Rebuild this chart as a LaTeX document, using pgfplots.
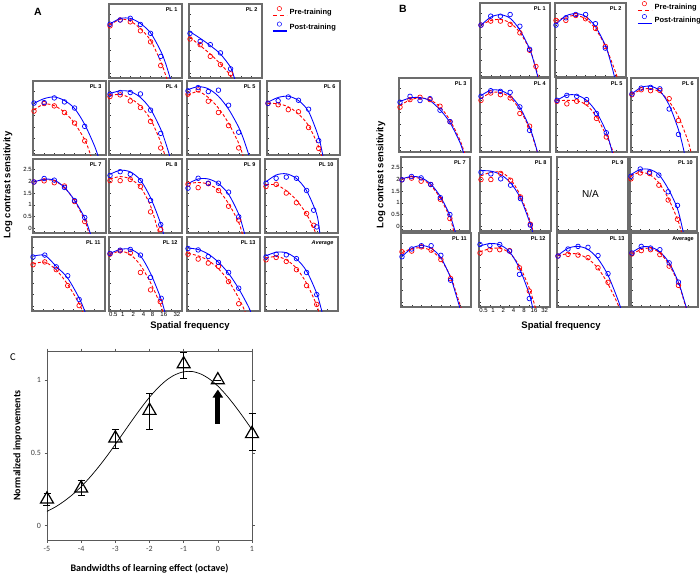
\documentclass[border=0pt]{standalone}
\usepackage{fontspec}
\setmainfont{Liberation Sans}
\newfontfamily\calibri{Carlito}
\usepackage{pgfplots}
\pgfplotsset{compat=1.18}
\usetikzlibrary{arrows.meta}

\pgfplotsset{
 csf/.style={scale only axis, width=73pt, height=74pt, anchor=north west,
  xmin=-1.1, xmax=6.1, ymin=-0.2, ymax=2.95,
  xtick={-1,0,1,2,3,4,5}, ytick={0,0.5,1,1.5,2,2.5},
  xticklabels={}, yticklabels={},
  tick align=inside, xtick pos=bottom, ytick pos=left,
  major tick length=2pt,
  axis line style={draw=gray!85!black, line width=1.1pt},
  tick style={black!80, line width=0.4pt},
  ticklabel style={font=\fontsize{6}{7}\selectfont, inner sep=1pt},
 },
 sflabels/.style={extra x ticks={#1}, extra x tick labels={0.5,1,2,4,8,16,32},
  extra x tick style={major tick length=0pt, tick style={draw=none}}},
 pre/.style={red, only marks, mark=o, mark size=2.3pt, mark options={solid, line width=0.7pt}},
 post/.style={blue, only marks, mark=o, mark size=2.3pt, mark options={solid, line width=0.7pt}},
 prefit/.style={red, line width=0.9pt, dash pattern=on 3pt off 2pt, smooth, no markers},
 postfit/.style={blue, line width=0.85pt, smooth, no markers},
 lgimg/.style={legend image code/.code={\draw[##1, solid, line width=0.5pt] (6.5pt,3.5pt) circle (2.2pt); \draw[##1, line width=1.4pt] (0pt,-3.5pt) -- (14pt,-3.5pt);}},
}
\newcommand{\csfpanel}[8]{%
\begin{axis}[csf, at={(#1pt,-#2pt)}, #8]
\addplot[prefit] coordinates {#6};
\addplot[postfit] coordinates {#7};
\addplot[pre] coordinates {#4};
\addplot[post] coordinates {#5};
\node[anchor=north east, font=\fontsize{5.5}{6}\selectfont\bfseries, inner sep=0pt] at (rel axis cs:0.94,0.95) {#3};
\end{axis}}

\begin{document}
\begin{tikzpicture}
\useasboundingbox (0pt,0pt) rectangle (700pt,-579pt);

% ===================== Panel A =====================
\node[font=\bfseries\fontsize{10.5}{12}\selectfont] at (38pt,-12pt) {A};
\csfpanel{109}{4}{PL 1}
 {(-1,2.02)(0,2.27)(1,2.19)(2,1.81)(3,1.34)(4,0.33)}
 {(-1,2.09)(0,2.27)(1,2.34)(2,2.08)(3,1.70)(4,0.72)}
 {(-1,2.05)(0,2.3)(1,2.22)(2,1.9)(3,1.4)(4,0.5)(4.5,-0.1)(5,-0.8)}
 {(-1,2.1)(0,2.33)(1,2.34)(2,2.12)(3,1.72)(4,0.95)(4.5,0.4)(5,-0.3)}{}
\csfpanel{189}{4}{PL 2}
 {(-1,1.46)(0,1.22)(1,0.72)(2,0.37)(3,-0.02)}
 {(-1,1.70)(0,1.36)(1,1.22)(2,0.87)(3,0.19)}
 {(-1,1.53)(0,1.18)(1,0.82)(2,0.4)(3,-0.1)(3.3,-0.5)}
 {(-1,1.77)(0,1.49)(1,1.18)(2,0.82)(3,0.26)(3.3,-0.1)(3.6,-0.5)}{}
\csfpanel{33}{81}{PL 3}
 {(-1,1.67)(0,1.99)(1,1.89)(2,1.61)(3,1.16)(4,0.40)}
 {(-1,2.01)(0,2.03)(1,2.23)(2,2.06)(3,1.80)(4,1.02)}
 {(-1,1.72)(0,1.97)(1,1.9)(2,1.62)(3,1.15)(4,0.45)(4.5,-0.1)(5,-0.8)}
 {(-1,2.0)(0,2.2)(1,2.27)(2,2.12)(3,1.78)(4,1.1)(5,0.15)(5.5,-0.5)}{}
\csfpanel{109}{81}{PL 4}
 {(-1,2.29)(0,2.36)(1,2.10)(2,1.82)(3,1.23)(4,0.10)}
 {(-1,2.39)(0,2.46)(1,2.46)(2,2.40)(3,1.71)(4,0.72)}
 {(-1,2.33)(0,2.38)(1,2.22)(2,1.88)(3,1.32)(4,0.35)(4.4,-0.2)(4.8,-0.8)}
 {(-1,2.42)(0,2.53)(1,2.5)(2,2.25)(3,1.75)(4,0.9)(4.5,0.3)(5,-0.4)}{}
\csfpanel{187}{81}{PL 5}
 {(-1,2.39)(0,2.57)(1,2.09)(2,1.61)(3,1.05)(4,0.10)}
 {(-1,2.53)(0,2.67)(1,2.50)(2,2.56)(3,1.92)(4,0.77)}
 {(-1,2.35)(0,2.5)(1,2.25)(2,1.8)(3,1.15)(4,0.3)(4.4,-0.2)(4.8,-0.8)}
 {(-1,2.58)(0,2.71)(1,2.62)(2,2.3)(3,1.75)(4,0.98)(4.5,0.45)(5,-0.2)}{}
\csfpanel{267}{81}{PL 6}
 {(-1,2.0)(0,1.94)(1,1.73)(2,1.64)(3,0.97)(4,0.08)}
 {(-1,2.0)(0,2.11)(1,2.27)(2,2.13)(3,1.75)(4,0.41)}
 {(-1,2.0)(0,1.98)(1,1.85)(2,1.55)(3,1.05)(4,0.15)(4.3,-0.3)}
 {(-1,2.05)(0,2.25)(1,2.3)(2,2.12)(3,1.65)(4,0.55)(4.4,-0.2)(4.7,-0.7)}{}
\csfpanel{33}{159}{PL 7}
 {(-1,1.97)(0,2.02)(1,1.94)(2,1.8)(3,1.14)(4,0.29)}
 {(-1,1.97)(0,2.12)(1,2.05)(2,1.74)(3,1.18)(4,0.46)}
 {(-1,1.97)(0,2.07)(1,2.02)(2,1.74)(3,1.17)(4,0.34)(4.4,-0.2)(4.8,-0.8)}
 {(-1,1.97)(0,2.09)(1,2.05)(2,1.74)(3,1.19)(4,0.44)(4.5,-0.15)(4.9,-0.7)}
 {yticklabels={0,0.5,1,1.5,2,2.5}}
\csfpanel{109}{159}{PL 8}
 {(-1,2.03)(0,2.03)(1,2.08)(2,1.78)(3,0.70)(4,-0.05)}
 {(-1,2.25)(0,2.41)(1,2.3)(2,2.03)(3,1.19)(4,0.16)}
 {(-1,2.1)(0,2.2)(1,2.1)(2,1.75)(3,0.95)(3.8,-0.2)(4.2,-0.8)}
 {(-1,2.3)(0,2.47)(1,2.4)(2,2.05)(3,1.3)(4,0.2)(4.3,-0.3)}{}
\csfpanel{187}{159}{PL 9}
 {(-1,1.88)(0,1.73)(1,1.9)(2,1.61)(3,0.94)(4,0.35)}
 {(-1,1.71)(0,2.13)(1,1.92)(2,1.92)(3,1.54)(4,0.49)}
 {(-1,1.9)(0,1.95)(1,1.88)(2,1.62)(3,1.05)(4,0.25)(4.4,-0.3)}
 {(-1,1.9)(0,2.1)(1,2.1)(2,1.9)(3,1.45)(4,0.6)(4.5,-0.1)(4.9,-0.7)}{}
\csfpanel{265}{159}{PL 10}
 {(-1,1.78)(0,1.87)(1,1.5)(2,1.09)(3,0.63)(3.7,0.13)}
 {(-1,1.92)(0,2.13)(1,2.18)(2,2.13)(3,1.61)(3.7,0.77)(4,0.06)}
 {(-1,1.85)(0,1.85)(1,1.6)(2,1.2)(3,0.6)(3.8,-0.1)(4.1,-0.5)}
 {(-1,1.98)(0,2.27)(1,2.32)(2,2.12)(3,1.6)(4,0.6)(4.3,-0.2)}{}
\csfpanel{32}{237}{PL 11}
 {(-1,1.77)(0.16,1.89)(1.29,1.56)(2.42,0.88)(3.55,0.03)}
 {(-1,2.10)(0.16,2.18)(1.29,1.68)(2.42,1.30)(3.55,0.29)}
 {(-1,1.8)(0.16,1.88)(1.29,1.55)(2.42,0.93)(3.55,0.12)(3.9,-0.25)}
 {(-1,2.13)(0.16,2.17)(1.29,1.7)(2.42,1.2)(3.55,0.35)(4.1,-0.2)(4.4,-0.6)}{}
\csfpanel{109}{237}{PL 12}
 {(-1,2.22)(0,2.36)(1,2.27)(2,1.44)(3,0.7)(3.95,0.2)}
 {(-1,2.25)(0,2.39)(1,2.42)(2,2.18)(3,1.23)(4.05,0.34)}
 {(-1,2.2)(0,2.35)(1,2.2)(2,1.75)(3,1.0)(4,0.05)(4.2,-0.25)}
 {(-1,2.25)(0,2.42)(1,2.43)(2,2.15)(3,1.4)(4,0.35)(4.35,-0.15)(4.7,-0.7)}
 {sflabels={-0.67,0.25,1.3,2.3,3.2,4.3,5.6}}
\csfpanel{187}{237}{PL 13}
 {(-1,2.22)(0,2.01)(1,1.84)(2,1.7)(3,1.05)(4,0.11)}
 {(-1,2.46)(0,2.4)(1,2.12)(2,1.87)(3,1.44)(4,0.77)}
 {(-1,2.25)(0,2.15)(1,1.95)(2,1.6)(3,1.08)(4,0.35)(4.6,-0.2)(5,-0.7)}
 {(-1,2.48)(0,2.42)(1,2.22)(2,1.88)(3,1.4)(4,0.75)(5,-0.05)(5.3,-0.4)}{}
\csfpanel{265}{237}{\textit{Average}}
 {(-1,1.98)(0,2.08)(1,1.91)(2,1.56)(3,0.88)(4,0.08)}
 {(-1,2.1)(0,2.22)(1,2.19)(2,2.03)(3,1.44)(4,0.5)}
 {(-1,2.05)(0,2.12)(1,1.98)(2,1.62)(3,0.98)(4,0.05)(4.2,-0.25)}
 {(-1,2.15)(0,2.3)(1,2.28)(2,2.02)(3,1.5)(4,0.55)(4.5,-0.2)(4.8,-0.7)}{}
\node[rotate=90, font=\bfseries\fontsize{9.5}{11}\selectfont] at (8pt,-185pt) {Log contrast sensitivity};
\node[font=\bfseries\fontsize{9.5}{11}\selectfont] at (190pt,-326pt) {Spatial frequency};
% legend A
\begin{axis}[at={(272pt,-6pt)}, anchor=north west, hide axis, scale only axis, width=10pt, height=10pt,
 xmin=0,xmax=1,ymin=0,ymax=1,
 legend style={at={(0,1)}, anchor=north west, draw=none, fill=none, font=\bfseries\fontsize{7.5}{9}\selectfont, row sep=4pt, inner sep=0pt},
 legend cell align=left]
\addlegendimage{lgimg, color=red, dash pattern=on 4pt off 3pt}
\addlegendentry{Pre-training}
\addlegendimage{lgimg, color=blue}
\addlegendentry{Post-training}
\end{axis}

% ===================== Panel B =====================
\node[font=\bfseries\fontsize{10.5}{12}\selectfont] at (403pt,-9pt) {B};
\csfpanel{480}{3}{PL 1}
 {(-1,2.01)(0,2.18)(1,2.18)(2,2.04)(3,1.68)(4,0.94)(4.65,0.25)}
 {(-1,2.01)(0,2.39)(1,2.39)(2,2.46)(3,1.96)(4,0.98)}
 {(-1,2.02)(0,2.2)(1,2.25)(2,2.1)(3,1.7)(4,0.98)(4.5,0.4)(5,-0.35)}
 {(-1,2.0)(0,2.35)(1,2.45)(2,2.3)(3,1.8)(4,1.0)(4.5,0.35)(5,-0.45)}{width=70pt}
\csfpanel{555}{3}{PL 2}
 {(-1,2.21)(0,2.21)(1,2.42)(2,2.28)(3,1.87)(4,1.1)}
 {(-1,2.01)(0,2.32)(1,2.46)(2,2.46)(3,2.07)(4,1.03)}
 {(-1,2.2)(0,2.35)(1,2.42)(2,2.28)(3,1.85)(4,1.12)(5,0.05)(5.4,-0.5)}
 {(-1,2.05)(0,2.4)(1,2.5)(2,2.38)(3,1.95)(4,1.15)(4.5,0.5)(5,-0.3)}{width=71pt}
\csfpanel{399}{78}{PL 3}
 {(-1,1.71)(0,2.03)(1,2.13)(2,2.03)(3,1.75)(4,1.09)}
 {(-1,1.92)(0,2.17)(1,1.99)(2,2.07)(3,1.58)(4,1.09)}
 {(-1,1.78)(0,2.02)(1,2.1)(2,2.02)(3,1.72)(4,1.15)(5,0.3)(5.5,-0.3)}
 {(-1,1.95)(0,2.1)(1,2.12)(2,1.98)(3,1.6)(4,1.05)(5,0.2)(5.4,-0.3)}{width=72pt}
\csfpanel{480}{78}{PL 4}
 {(-1,2.0)(0,2.31)(1,2.24)(2,2.1)(3,1.44)(4,0.9)}
 {(-1,2.17)(0,2.41)(1,2.38)(2,2.34)(3,1.72)(4,0.72)}
 {(-1,2.08)(0,2.32)(1,2.33)(2,2.12)(3,1.6)(4,0.8)(4.5,0.2)(4.9,-0.35)}
 {(-1,2.2)(0,2.43)(1,2.42)(2,2.2)(3,1.7)(4,0.85)(4.5,0.25)(4.8,-0.2)}{width=70pt}
\csfpanel{556}{78}{PL 5}
 {(-1,1.96)(0,1.85)(1,1.96)(2,1.89)(3,1.23)(4,0.44)}
 {(-1,2.0)(0,2.21)(1,2.17)(2,2.03)(3,1.44)(4,0.62)}
 {(-1,1.98)(0,2.0)(1,1.98)(2,1.8)(3,1.3)(4,0.5)(4.7,-0.2)(5,-0.6)}
 {(-1,2.0)(0,2.22)(1,2.22)(2,2.0)(3,1.5)(4,0.65)(4.6,-0.2)(4.9,-0.7)}{width=71pt}
\csfpanel{631}{78}{PL 6}
 {(-1,2.24)(0,2.45)(1,2.41)(2,2.42)(3,2.07)(4,1.14)}
 {(-1,2.27)(0,2.52)(1,2.55)(2,2.49)(3,1.63)(4,0.55)}
 {(-1,2.25)(0,2.45)(1,2.5)(2,2.35)(3,1.95)(4,1.3)(5,0.3)(5.4,-0.3)}
 {(-1,2.28)(0,2.55)(1,2.6)(2,2.4)(3,1.8)(4,0.75)(4.5,0.0)(4.7,-0.4)}{width=67pt}
\csfpanel{401}{157}{PL 7}
 {(-1,1.98)(0,2.05)(1,1.92)(2,1.78)(3,1.15)(4,0.33)}
 {(-1,1.98)(0,2.12)(1,2.06)(2,1.78)(3,1.22)(4,0.5)}
 {(-1,2.0)(0,2.09)(1,2.02)(2,1.74)(3,1.2)(4,0.37)(4.4,-0.2)(4.8,-0.8)}
 {(-1,2.02)(0,2.12)(1,2.07)(2,1.8)(3,1.27)(4,0.47)(4.5,-0.15)(4.9,-0.7)}
 {width=69pt, yticklabels={0,0.5,1,1.5,2,2.5}}
\csfpanel{480}{157}{PL 8}
 {(-1,1.99)(0,1.99)(1,2.25)(2,1.96)(3,1.25)(4,0.09)}
 {(-1,2.3)(0,2.23)(1,2.02)(2,1.75)(3,1.18)(4,0.05)}
 {(-1,2.15)(0,2.3)(1,2.3)(2,2.0)(3,1.3)(4,0.2)(4.3,-0.25)}
 {(-1,2.37)(0,2.35)(1,2.2)(2,1.85)(3,1.2)(4,0.1)(4.2,-0.2)(4.5,-0.6)}{width=71pt}
\begin{axis}[csf, at={(557pt,-157pt)}, width=71pt]
\addplot[draw=none, forget plot] coordinates {(0,0)};
\node[anchor=north east, font=\fontsize{5.5}{6}\selectfont\bfseries, inner sep=0pt] at (rel axis cs:0.94,0.95) {PL 9};
\node[font=\fontsize{10}{11}\selectfont] at (rel axis cs:0.47,0.5) {N/A};
\end{axis}
\csfpanel{630}{157}{PL 10}
 {(-1,2.02)(0,2.27)(1,2.25)(2,1.75)(3,1.12)(4,0.3)}
 {(-1,2.13)(0,2.44)(1,2.3)(2,2.18)(3,1.47)(4,0.89)}
 {(-1,2.15)(0,2.3)(1,2.2)(2,1.85)(3,1.2)(4,0.3)(4.4,-0.2)(4.8,-0.8)}
 {(-1,2.2)(0,2.42)(1,2.42)(2,2.2)(3,1.6)(4,0.75)(4.6,-0.2)(4.9,-0.7)}{width=67pt}
\csfpanel{401}{233}{PL 11}
 {(-1,2.15)(0,2.18)(1,2.36)(2,2.22)(3,1.82)(4,1.01)}
 {(-1,1.94)(0,2.27)(1,2.41)(2,2.41)(3,2.0)(4,0.94)}
 {(-1,2.12)(0,2.28)(1,2.32)(2,2.2)(3,1.82)(4,1.1)(4.5,0.5)(5.2,-0.4)}
 {(-1,1.95)(0,2.3)(1,2.42)(2,2.3)(3,1.9)(4,1.05)(4.5,0.4)(5,-0.3)}{width=70pt}
\csfpanel{479}{233}{PL 12}
 {(-1,2.1)(0,2.24)(1,2.24)(2,2.2)(3,1.47)(4,0.48)}
 {(-1,2.46)(0,2.42)(1,2.46)(2,2.18)(3,1.19)(4,0.16)}
 {(-1,2.15)(0,2.28)(1,2.3)(2,2.1)(3,1.55)(4,0.6)(4.6,-0.2)(5,-0.8)}
 {(-1,2.4)(0,2.5)(1,2.45)(2,2.15)(3,1.45)(4,0.35)(4.3,-0.15)(4.6,-0.6)}
 {width=71pt, sflabels={-0.65,0.32,1.37,2.39,3.46,4.48,5.56}}
\csfpanel{557}{233}{PL 13}
 {(-1,1.97)(0,2.04)(1,2.01)(2,1.9)(3,1.47)(4,0.85)}
 {(-1,1.97)(0,2.27)(1,2.38)(2,2.34)(3,1.99)(4,1.22)}
 {(-1,1.98)(0,2.07)(1,2.05)(2,1.85)(3,1.45)(4,0.78)(5,-0.1)(5.3,-0.5)}
 {(-1,2.0)(0,2.3)(1,2.38)(2,2.25)(3,1.85)(4,1.15)(5,0.1)(5.3,-0.3)}{width=72pt}
\csfpanel{631}{233}{Average}
 {(-1,2.06)(0,2.2)(1,2.24)(2,2.03)(3,1.54)(4,0.72)}
 {(-1,2.1)(0,2.38)(1,2.31)(2,2.24)(3,1.68)(4,0.86)}
 {(-1,2.05)(0,2.25)(1,2.3)(2,2.1)(3,1.6)(4,0.8)(4.6,0.05)(4.9,-0.35)}
 {(-1,2.12)(0,2.35)(1,2.35)(2,2.15)(3,1.68)(4,0.85)(4.6,0.1)(4.9,-0.3)}{width=67pt}
\node[rotate=90, font=\bfseries\fontsize{9.5}{11}\selectfont] at (381pt,-175pt) {Log contrast sensitivity};
\node[font=\bfseries\fontsize{9.5}{11}\selectfont] at (561pt,-326pt) {Spatial frequency};
% legend B
\begin{axis}[at={(637pt,-1pt)}, anchor=north west, hide axis, scale only axis, width=10pt, height=10pt,
 xmin=0,xmax=1,ymin=0,ymax=1,
 legend style={at={(0,1)}, anchor=north west, draw=none, fill=none, font=\bfseries\fontsize{7.5}{9}\selectfont, row sep=1.5pt, inner sep=0pt},
 legend cell align=left]
\addlegendimage{lgimg, color=red, dash pattern=on 4pt off 3pt}
\addlegendentry{Pre-training}
\addlegendimage{lgimg, color=blue}
\addlegendentry{Post-training}
\end{axis}

% ===================== Panel C =====================
\node[font=\calibri\fontsize{10.5}{12}\selectfont] at (13pt,-357pt) {C};
\begin{axis}[at={(47pt,-351pt)}, anchor=north west, scale only axis, width=205pt, height=189pt,
 xmin=-5, xmax=1, ymin=-0.1, ymax=1.2,
 xtick={-5,-4,-3,-2,-1,0,1}, xticklabels={-5,-4,-3,-2,-1,0,1},
 ytick={0,0.5,1}, yticklabels={0,0.5,1},
 tick align=outside, major tick length=2.5pt,
 axis line style={draw=gray!70!black, line width=0.5pt},
 tick style={gray!70!black, line width=0.5pt},
 ticklabel style={font=\calibri\fontsize{8}{9}\selectfont, text=black!75},
 xlabel={Bandwidths of learning effect (octave)},
 ylabel={Normalized improvements},
 label style={font=\calibri\bfseries\fontsize{10}{12}\selectfont},
 xlabel style={yshift=-6pt},
 ylabel style={yshift=2pt},
 clip=false]
\addplot[black, line width=0.7pt, smooth, no markers] coordinates {
 (-5,0.097)(-4.75,0.128)(-4.5,0.167)(-4.25,0.213)(-4,0.267)(-3.75,0.330)(-3.5,0.400)
 (-3.25,0.476)(-3,0.558)(-2.75,0.642)(-2.5,0.726)(-2.25,0.807)(-2,0.882)(-1.75,0.947)
 (-1.5,1.000)(-1.25,1.037)(-1,1.057)(-0.75,1.059)(-0.5,1.042)(-0.25,1.008)(0,0.959)
 (0.25,0.896)(0.5,0.823)(0.75,0.743)(1,0.659)};
\addplot[black, only marks, mark=triangle, mark size=7.5pt, mark options={line width=1.2pt, fill=white},
 error bars/.cd, y dir=both, y explicit,
 error bar style={line width=0.6pt, black},
 error mark options={rotate=90, mark size=3.5pt, line width=0.6pt, black}]
 coordinates {
 (-5,0.18) += (0,0.04) -= (0,0.04)
 (-4,0.256) += (0,0.055) -= (0,0.05)
 (-3,0.60) += (0,0.06) -= (0,0.07)
 (-2,0.79) += (0,0.12) -= (0,0.13)
 (-1,1.11) += (0,0.08) -= (0,0.10)
 (0,1.0) += (0,0) -= (0,0)
 (1,0.63) += (0,0.14) -= (0,0.11)};
\draw[black, line width=5pt, -{Triangle[width=10pt,length=8pt]}] (axis cs:0,0.70) -- (axis cs:0,0.935);
\end{axis}
\end{tikzpicture}
\end{document}
